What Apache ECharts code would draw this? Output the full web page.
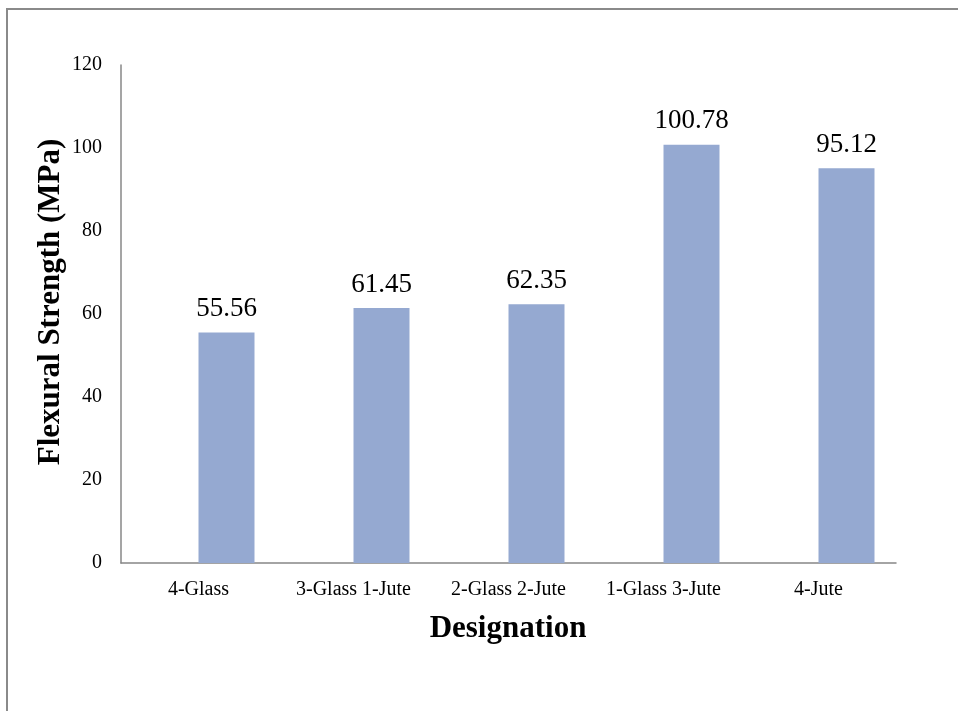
<!DOCTYPE html>
<html>
<head>
<meta charset="utf-8">
<script src="https://cdn.jsdelivr.net/npm/echarts@6/dist/echarts.min.js"></script>
<style>
  html, body { margin: 0; padding: 0; background: #fff; }
  #chart { width: 958px; height: 711px; }
</style>
</head>
<body>
<div id="chart"></div>
<script>
// Flexural strength by laminate stacking designation
const categories = ['4-Glass', '3-Glass 1-Jute', '2-Glass 2-Jute', '1-Glass 3-Jute', '4-Jute'];
const strength = [55.56, 61.45, 62.35, 100.78, 95.12];
// Empty companion series of the clustered layout (no values)
const companion = [null, null, null, null, null];
const yTicks = { min: 0, max: 120, interval: 20 };

const serif = '"Liberation Serif", "Times New Roman", serif';
const axisGray = '#878787';

const chart = echarts.init(document.getElementById('chart'), null, { renderer: 'canvas' });

chart.setOption({
  backgroundColor: '#ffffff',
  animation: false,
  grid: { left: 121, right: 62, top: 65, bottom: 148, containLabel: false },
  xAxis: {
    type: 'category',
    data: categories,
    axisLine: { show: true, lineStyle: { color: axisGray, width: 1.5 } },
    axisTick: { show: false },
    axisLabel: { color: '#000', fontFamily: serif, fontSize: 20, margin: 17 },
    splitLine: { show: false }
  },
  yAxis: {
    type: 'value',
    min: yTicks.min,
    max: yTicks.max,
    interval: yTicks.interval,
    axisLine: { show: true, lineStyle: { color: axisGray, width: 1.5 } },
    axisTick: { show: false },
    axisLabel: { color: '#000', fontFamily: serif, fontSize: 20, margin: 19, padding: [3, 0, 0, 0] },
    splitLine: { show: false }
  },
  series: [
    {
      type: 'bar',
      data: companion,
      barWidth: 56,
      barGap: '0%',
      silent: true
    },
    {
      type: 'bar',
      data: strength,
      barWidth: 56,
      barGap: '0%',
      itemStyle: { color: '#95a9d1' },
      label: {
        show: true,
        position: 'top',
        distance: 10,
        color: '#000',
        fontFamily: serif,
        fontSize: 27,
        formatter: p => p.value.toFixed(2)
      }
    }
  ],
  graphic: [
    {
      type: 'rect',
      shape: { x: 7, y: 9, width: 1000, height: 800 },
      style: { fill: 'none', stroke: '#8a8a8a', lineWidth: 2 },
      silent: true
    },
    {
      type: 'text',
      x: 508,
      y: 629,
      style: {
        text: 'Designation',
        fontFamily: serif,
        fontWeight: 'bold',
        fontSize: 31,
        fill: '#000',
        align: 'center',
        verticalAlign: 'middle'
      }
    },
    {
      type: 'text',
      x: 51,
      y: 302,
      rotation: Math.PI / 2,
      style: {
        text: 'Flexural Strength (MPa)',
        fontFamily: serif,
        fontWeight: 'bold',
        fontSize: 31,
        fill: '#000',
        align: 'center',
        verticalAlign: 'middle'
      }
    }
  ]
});
</script>
</body>
</html>
